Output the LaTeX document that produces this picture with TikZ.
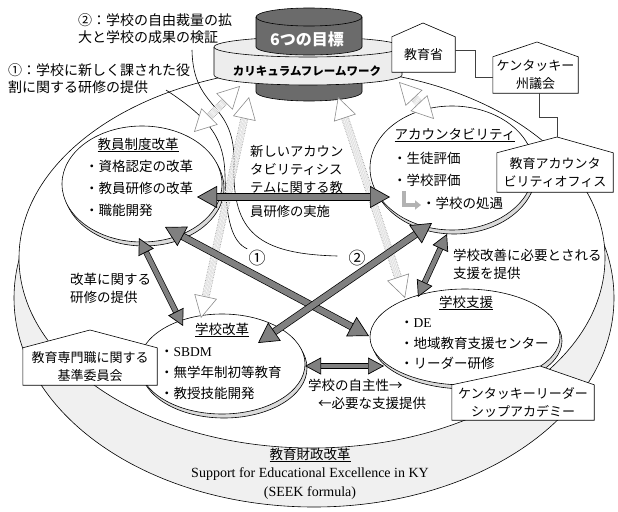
\documentclass[tikz,border=0pt]{standalone}
\usepackage{fontspec}
\setmainfont{Noto Sans CJK JP}
\newfontfamily\lat{Liberation Serif}
\usetikzlibrary{arrows.meta,shapes.geometric}
\begin{document}
\begin{tikzpicture}[x=1pt,y=-1pt,
  txt/.style={font=\fontsize{13.5}{18}\selectfont, inner sep=0pt, align=left, anchor=west},
  ttl/.style={font=\fontsize{13.5}{18}\selectfont, inner sep=0pt},
  oval/.style={ellipse, draw, fill=white, line width=0.6pt, inner sep=0pt},
  ovalshadow/.style={ellipse, draw, fill=gray!28, line width=0.6pt, inner sep=0pt},
  housebox/.style={fill=white, inner sep=0pt, align=center, font=\fontsize{13}{18.5}\selectfont},
  houseline/.style={line width=0.6pt},
  conn/.style={line width=0.6pt, black!75},
  darkfill/.style={fill=black!58, draw=black, line width=0.6pt},
  ringfill/.style={fill=gray!14, draw=black, line width=0.6pt},
  darr/.style={draw=black, line width=0.7pt, double=black!50, double distance=6pt,
    {Triangle[length=20pt, width=22pt, fill=black!50, line width=0.7pt]}-{Triangle[length=20pt, width=22pt, fill=black!50, line width=0.7pt]}},
  darrs/.style={draw=black, line width=0.7pt, double=black!50, double distance=4.5pt,
    {Triangle[length=16pt, width=17pt, fill=black!50, line width=0.7pt]}-{Triangle[length=16pt, width=17pt, fill=black!50, line width=0.7pt]}},
  harr/.style={draw=gray!90, line width=0.6pt, densely dotted, double=white, double distance=6.5pt,
    {Triangle[length=22pt, width=23pt, fill=white, line width=0.6pt]}-{Triangle[length=22pt, width=23pt, fill=white, line width=0.6pt]}},
  callout/.style={line width=0.6pt}
]
\useasboundingbox (0,0) rectangle (618,511);

% ---- big disc (education finance reform)
\filldraw[line width=0.6pt, fill=gray!12] (314,298) ellipse [x radius=300, y radius=209];
\filldraw[line width=0.6pt, fill=white] (312,258) ellipse [x radius=293, y radius=190];

% ---- cylinder: six goals / curriculum framework
\filldraw[darkfill] (256,47) -- (256,92) arc[start angle=180,end angle=0,x radius=53,y radius=9] -- (362,47) -- cycle;
\filldraw[ringfill] (214,47) -- (214,75) arc[start angle=180,end angle=0,x radius=94,y radius=10] -- (402,47) arc[start angle=0,end angle=-180,x radius=94,y radius=10] -- cycle;
\draw[line width=0.6pt] (214,47) arc[start angle=180,end angle=0,x radius=94,y radius=10];
\filldraw[darkfill] (256,17) -- (256,47) arc[start angle=180,end angle=0,x radius=53,y radius=8] -- (362,17) arc[start angle=0,end angle=-180,x radius=53,y radius=9] -- cycle;
\draw[line width=0.6pt] (256,17) arc[start angle=180,end angle=0,x radius=53,y radius=9];
\node[font=\bfseries\fontsize{16}{16}\selectfont, text=white, inner sep=0pt] (goal) at (307,39) {6つの目標};
\node[font=\bfseries\fontsize{11.5}{12}\selectfont, inner sep=0pt] (frame) at (307,71) {カリキュラムフレームワーク};

% ---- annotations
\node[txt, font=\fontsize{14}{17.5}\selectfont] (ann2) at (78,28.5) {②：学校の自由裁量の拡\\大と学校の成果の検証};
\node[txt, font=\fontsize{14}{17.5}\selectfont] (ann1) at (8,78.5) {①：学校に新しく課された役\\割に関する研修の提供};

% ---- four ellipses
\node[ovalshadow, minimum width=160pt, minimum height=116pt] (e1s) at (144,188) {};
\node[oval, minimum width=160pt, minimum height=116pt] (e1) at (142,184) {};
\node[ovalshadow, minimum width=164pt, minimum height=124pt] (e2s) at (454,172) {};
\node[oval, minimum width=164pt, minimum height=124pt] (e2) at (452,168) {};
\node[ovalshadow, minimum width=166pt, minimum height=100pt] (e3s) at (224,368) {};
\node[oval, minimum width=166pt, minimum height=100pt] (e3) at (222,364) {};
\node[ovalshadow, minimum width=190pt, minimum height=96pt] (e4s) at (467,341) {};
\node[oval, minimum width=190pt, minimum height=96pt] (e4) at (465,337) {};

% ---- callout curves
\coordinate (s1) at (166,90);
\coordinate (s2) at (192,50);
\node[font=\fontsize{17}{17}\selectfont, inner sep=1pt] (c1) at (257,258) {①};
\node[font=\fontsize{17}{17}\selectfont, inner sep=1pt] (c2) at (357,258) {②};
\draw[callout] (s1) .. controls (212,120) and (224,140) .. (225,175) .. controls (226,220) and (232,242) .. (c1.north west);
\draw[callout] (s2) .. controls (193,112) and (236,100) .. (234,165) .. controls (232,232) and (258,254) .. ([xshift=-10pt,yshift=2pt]c2.west);

% ---- text in ellipses
\node[ttl] (t1) at (138,145) {\underline{教員制度改革}};
\node[txt] (t1a) at (85,166) {・資格認定の改革};
\node[txt] (t1b) at (85,188) {・教員研修の改革};
\node[txt] (t1c) at (85,210) {・職能開発};

\node[ttl] (t2) at (455,135) {\underline{アカウンタビリティ}};
\node[txt] (t2a) at (393,158) {・生徒評価};
\node[txt] (t2b) at (393,180) {・学校評価};
\node[txt] (t2c) at (422,203) {・学校の処遇};
\coordinate (Ls) at (404,191);
\coordinate (Le) at (421,205);
\draw[line width=3.5pt, gray!60, -{Triangle[length=6pt,width=9pt]}] (Ls) |- (Le);

\node[ttl] (t3) at (222,330) {\underline{学校改革}};
\node[txt] (t3a) at (160,352) {・{\lat SBDM}};
\node[txt] (t3b) at (160,372) {・無学年制初等教育};
\node[txt] (t3c) at (160,393) {・教授技能開発};

\node[ttl] (t4) at (466,303) {\underline{学校支援}};
\node[txt] (t4a) at (400,323) {・{\lat DE}};
\node[txt] (t4b) at (400,343) {・地域教育支援センター};
\node[txt] (t4c) at (400,363) {・リーダー研修};

% ---- relation texts
\node[txt, font=\fontsize{13.3}{18}\selectfont] (mid) at (250,169) {新しいアカウン\\タビリティシス\\テムに関する教};
\node[txt, font=\fontsize{13.3}{18}\selectfont] (mid2) at (250,211) {員研修の実施};
\node[txt] (lt) at (70,288.5) {改革に関する\\研修の提供};
\node[txt] (rt) at (453,264) {学校改善に必要とされる\\支援を提供};
\node[txt] (bt1) at (308,385) {学校の自主性→};
\node[txt] (bt2) at (318,403) {←必要な支援提供};

% ---- band text
\node[ttl, font=\fontsize{13.5}{18}\selectfont] (fin) at (310,455) {\underline{教育財政改革}};
\node[inner sep=0pt, font=\lat\fontsize{14}{16}\selectfont] (seek1) at (310,474) {Support for Educational Excellence in KY};
\node[inner sep=0pt, font=\lat\fontsize{14}{16}\selectfont] (seek2) at (310,493) {(SEEK formula)};

% ---- hollow arrows from the framework
\coordinate (G1) at (240,86);  \coordinate (G2) at (194,132);
\coordinate (H1) at (249,97);  \coordinate (H2) at (201,318);
\coordinate (I1) at (338,97);  \coordinate (I2) at (405,298);
\coordinate (J1) at (399,82);  \coordinate (J2) at (434,119);
\draw[harr] (G1) -- (G2);
\draw[harr] (H1) -- (H2);
\draw[harr] (I1) -- (I2);
\draw[harr] (J1) -- (J2);

% ---- dark double arrows
\coordinate (A1) at (197,197); \coordinate (A2) at (390,197);
\coordinate (B1) at (165,227); \coordinate (B2) at (369,336);
\coordinate (C1) at (432,223); \coordinate (C2) at (258,343);
\coordinate (D1) at (139,238); \coordinate (D2) at (183,326);
\coordinate (E1) at (447,234); \coordinate (E2) at (418,297);
\coordinate (F1) at (305,366); \coordinate (F2) at (384,366);
\draw[darr] (A1) -- (A2);
\draw[darr] (B1) -- (B2);
\draw[darr] (C1) -- (C2);
\draw[darrs] (D1) -- (D2);
\draw[darrs] (E1) -- (E2);
\draw[darrs] (F1) -- (F2);

% ---- houses
\node[housebox, minimum width=63pt, minimum height=35pt] (moe) at (423.5,54.5) {教育省};
\coordinate (moepk) at (423,23);
\fill[white] (moe.north west) -- (moepk) -- (moe.north east) -- cycle;
\draw[houseline] (moe.north west) -- (moepk) -- (moe.north east) -- (moe.south east) -- (moe.south west) -- cycle;

\node[housebox, minimum width=85pt, minimum height=36pt] (kyleg) at (535.5,75) {ケンタッキー\\州議会};
\coordinate (kylegpk) at (537,42);
\fill[white] (kyleg.north west) -- (kylegpk) -- (kyleg.north east) -- cycle;
\draw[houseline] (kyleg.north west) -- (kylegpk) -- (kyleg.north east) -- (kyleg.south east) -- (kyleg.south west) -- cycle;

\node[housebox, minimum width=116pt, minimum height=39pt] (office) at (555,172.5) {教育アカウンタ\\ビリティオフィス};
\coordinate (offpk) at (557,137);
\fill[white] (office.north west) -- (offpk) -- (office.north east) -- cycle;
\draw[houseline] (office.north west) -- (offpk) -- (office.north east) -- (office.south east) -- (office.south west) -- cycle;

\node[housebox, minimum width=134pt, minimum height=37pt] (epsb) at (90,366.5) {教育専門職に関する\\基準委員会};
\coordinate (epsbpk) at (90,330);
\fill[white] (epsb.north west) -- (epsbpk) -- (epsb.north east) -- cycle;
\draw[houseline] (epsb.north west) -- (epsbpk) -- (epsb.north east) -- (epsb.south east) -- (epsb.south west) -- cycle;

\node[housebox, minimum width=142pt, minimum height=35pt] (kla) at (523,402.5) {ケンタッキーリーダー\\シップアカデミー};
\coordinate (klapk) at (540,366);
\fill[white] (kla.north west) -- (klapk) -- (kla.north east) -- cycle;
\draw[houseline] (kla.north west) -- (klapk) -- (kla.north east) -- (kla.south east) -- (kla.south west) -- cycle;

% ---- connectors between houses
\draw[conn] ([yshift=4.5pt]moe.east) -- ++(20,0) |- ([yshift=-2pt]kyleg.west);
\draw[conn] ([xshift=4pt]kyleg.south) -- ++(0,24) -| (offpk);
\end{tikzpicture}
\end{document}
